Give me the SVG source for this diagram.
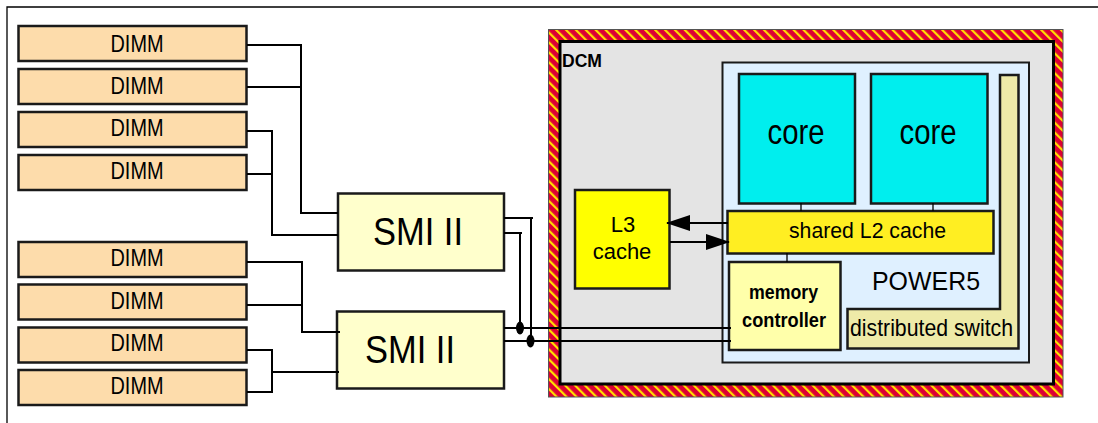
<svg xmlns="http://www.w3.org/2000/svg" width="1098" height="423" viewBox="0 0 1098 423">
<style>
  text { font-family: "Liberation Sans", Arial, sans-serif; fill: #000; }
  .dimm rect { fill: #fddcab; stroke: #1a1a1a; stroke-width: 2.5; }
  .dimm text { font-size: 24px; text-anchor: middle; }
  .smi rect { fill: #ffffcc; stroke: #1a1a1a; stroke-width: 2.5; }
  .smi text { font-size: 39px; text-anchor: middle; }
  .core rect { fill: #00eeee; stroke: #1a1a1a; stroke-width: 2.5; }
  .core text { font-size: 35px; text-anchor: middle; }
  .wire { fill: none; stroke: #000; stroke-width: 2; }
  .thin { fill: none; stroke: #000; stroke-width: 1.3; }
</style>
<defs>
  <pattern id="hatch" patternUnits="userSpaceOnUse" width="7" height="7" patternTransform="rotate(-45)">
    <rect width="7" height="7" fill="#dc0034"/>
    <rect x="0" y="0" width="2.2" height="7" fill="#ffe000"/>
  </pattern>
  <marker id="arr" markerUnits="userSpaceOnUse" markerWidth="24" markerHeight="16" refX="23" refY="8" orient="auto">
    <path d="M0,0 L24,8 L0,16 Z" fill="#000"/>
  </marker>
</defs>

<!-- outer frame -->
<path class="thin" d="M7,423 V7 H1098"/>

<!-- DIMMs -->
<g id="dimm1" class="dimm"><rect x="18.5" y="26" width="228" height="35"/><text x="137" y="52" textLength="53" lengthAdjust="spacingAndGlyphs">DIMM</text></g>
<g id="dimm2" class="dimm"><rect x="18.5" y="69" width="228" height="35"/><text x="137" y="94" textLength="53" lengthAdjust="spacingAndGlyphs">DIMM</text></g>
<g id="dimm3" class="dimm"><rect x="18.5" y="112" width="228" height="35"/><text x="137" y="136" textLength="53" lengthAdjust="spacingAndGlyphs">DIMM</text></g>
<g id="dimm4" class="dimm"><rect x="18.5" y="155" width="228" height="35"/><text x="137" y="179" textLength="53" lengthAdjust="spacingAndGlyphs">DIMM</text></g>
<g id="dimm5" class="dimm"><rect x="18.5" y="242" width="228" height="35"/><text x="137" y="266" textLength="53" lengthAdjust="spacingAndGlyphs">DIMM</text></g>
<g id="dimm6" class="dimm"><rect x="18.5" y="284.5" width="228" height="35"/><text x="137" y="309" textLength="53" lengthAdjust="spacingAndGlyphs">DIMM</text></g>
<g id="dimm7" class="dimm"><rect x="18.5" y="327.5" width="228" height="35"/><text x="137" y="351" textLength="53" lengthAdjust="spacingAndGlyphs">DIMM</text></g>
<g id="dimm8" class="dimm"><rect x="18.5" y="370" width="228" height="35"/><text x="137" y="394" textLength="53" lengthAdjust="spacingAndGlyphs">DIMM</text></g>

<!-- SMI II -->
<g id="smi1" class="smi"><rect x="338" y="193.5" width="166" height="77"/><text x="418" y="245" textLength="90" lengthAdjust="spacingAndGlyphs">SMI II</text></g>
<g id="smi2" class="smi"><rect x="337" y="311.5" width="167" height="77"/><text x="410" y="363" textLength="90" lengthAdjust="spacingAndGlyphs">SMI II</text></g>

<!-- DCM -->
<g id="dcm">
  <rect x="548.5" y="29.5" width="514.5" height="367.5" fill="url(#hatch)" stroke="#555" stroke-width="1"/>
  <rect x="560" y="41.5" width="493.5" height="342.5" fill="#e4e4e4" stroke="#000" stroke-width="3"/>
  <text x="562" y="67" font-size="19" font-weight="bold" textLength="40" lengthAdjust="spacingAndGlyphs">DCM</text>
</g>

<!-- POWER5 chip -->
<g id="power5">
  <rect x="722.5" y="62.5" width="306.5" height="300" fill="#dff0ff" stroke="#1a1a1a" stroke-width="2"/>
  <text x="872" y="290" font-size="26" textLength="108" lengthAdjust="spacingAndGlyphs">POWER5</text>
</g>

<g id="core1" class="core"><rect x="739" y="74" width="116" height="129.5"/><text x="796" y="144" textLength="57" lengthAdjust="spacingAndGlyphs">core</text></g>
<g id="core2" class="core"><rect x="871" y="74" width="116.5" height="129.5"/><text x="928" y="144" textLength="57" lengthAdjust="spacingAndGlyphs">core</text></g>

<g id="switch">
  <path d="M1000,75 H1018.5 V348.5 H847.5 V309 H1000 Z" fill="#eeeaa8" stroke="#1a1a1a" stroke-width="2.5"/>
  <text x="850" y="336" font-size="24" textLength="163" lengthAdjust="spacingAndGlyphs">distributed switch</text>
</g>

<g id="l2">
  <rect x="727.5" y="211" width="266" height="42.5" fill="#ffee22" stroke="#1a1a1a" stroke-width="2.5"/>
  <text x="789" y="238" font-size="22" textLength="157" lengthAdjust="spacingAndGlyphs">shared L2 cache</text>
</g>

<g id="memctrl">
  <rect x="729" y="262" width="111.5" height="88" fill="#ffffaa" stroke="#1a1a1a" stroke-width="2.5"/>
  <text x="783.5" y="299" font-size="20" font-weight="bold" text-anchor="middle" textLength="69" lengthAdjust="spacingAndGlyphs">memory</text>
  <text x="784" y="327" font-size="20" font-weight="bold" text-anchor="middle" textLength="84" lengthAdjust="spacingAndGlyphs">controller</text>
</g>

<g id="l3">
  <rect x="575" y="190" width="94.5" height="98.5" fill="#ffff00" stroke="#1a1a1a" stroke-width="2.5"/>
  <text x="623" y="232" font-size="22" text-anchor="middle">L3</text>
  <text x="622" y="259" font-size="22" text-anchor="middle">cache</text>
</g>

<!-- connectors -->
<g id="connectors">
  <path class="wire" d="M247,45 H301 V213 H338"/>
  <path class="wire" d="M247,87 H301"/>
  <path class="wire" d="M247,131 H272 V235 H338"/>
  <path class="wire" d="M247,174 H272"/>
  <path class="wire" d="M247,262 H302 V332 H340"/>
  <path class="wire" d="M247,305 H302"/>
  <path class="wire" d="M247,350 H272 V392 H247"/>
  <path class="wire" d="M272,372 H339"/>
  <path class="wire" d="M504,218 H533"/>
  <path class="wire" d="M531,218 V341"/>
  <path class="wire" d="M504,233 H522"/>
  <path class="wire" d="M520,233 V328"/>
  <path class="wire" d="M504,328 H731"/>
  <path class="wire" d="M504,341 H731"/>
  <ellipse cx="520" cy="328" rx="4" ry="6.5" fill="#000"/>
  <ellipse cx="530.5" cy="341" rx="4" ry="6.5" fill="#000"/>
  <path class="wire" d="M728,223 H667" stroke-width="2.5" marker-end="url(#arr)"/>
  <path class="wire" d="M670,242 H729" stroke-width="2.5" marker-end="url(#arr)"/>
  <path class="thin" d="M801,203 V211"/>
  <path class="thin" d="M933,203 V211"/>
  <path class="thin" d="M787,253 V262"/>
</g>
</svg>
